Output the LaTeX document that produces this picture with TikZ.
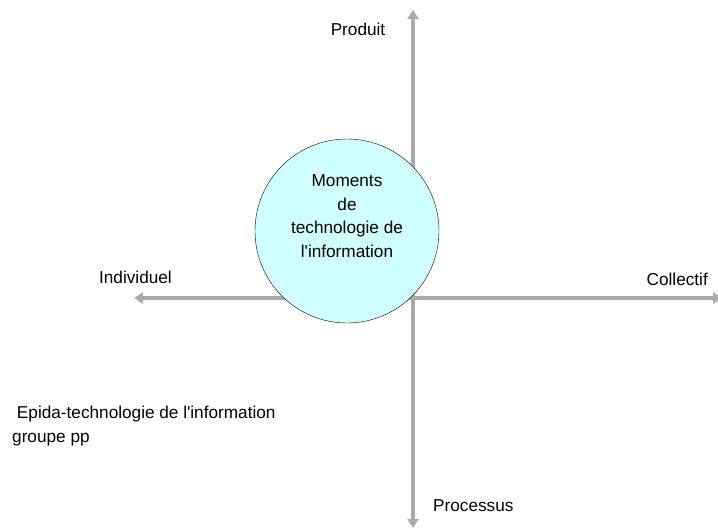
\documentclass[tikz,border=0pt]{standalone}
\usepackage{fontspec}
\setmainfont{Liberation Sans}
\usetikzlibrary{positioning,arrows.meta}

\definecolor{axisgray}{RGB}{170,170,170}
\definecolor{lightcyan}{RGB}{208,255,255}

\begin{document}
\begin{tikzpicture}[
    x=1bp, y=-1bp,
    every node/.style={font=\fontsize{17.2bp}{23.5bp}\selectfont, inner sep=0pt},
    axis/.style={draw=axisgray, line width=4bp, -{Triangle[length=9bp, width=11bp]}},
    bubble/.style={circle, draw, thin, fill=lightcyan, minimum size=184bp},
    tag/.style={text=black}
]
\useasboundingbox (0,0) rectangle (718,531);

% Axes
\coordinate (origin) at (413,298);
\coordinate (top) at (413,10);
\coordinate (bottom) at (413,528);
\coordinate (left) at (134,298);
\coordinate (right) at (722,298);

\draw[axis] (origin) -- (top);
\draw[axis] (origin) -- (bottom);
\draw[axis] (origin) -- (left);
\draw[axis] (origin) -- (right);

% Central moment
\node[bubble] (moments) at (347,231) {};
\node[tag, align=center] (momentstext) at ([yshift=15bp]moments.center)
    {Moments\\de\\technologie de\\l\textquotesingle information};

% Axis labels
\node[tag] (produit) at (358,29) {Produit};
\node[tag, anchor=east] (collectif) at (708,279) {Collectif};
\node[tag, anchor=east] (individuel) at (172,277) {Individuel};
\node[tag, anchor=west] (processus) at (433,506) {Processus};

% Note
\node[tag, align=left, anchor=north west] (epida) at (12,406)
    {\ Epida-technologie de l\textquotesingle information\\groupe pp};

\end{tikzpicture}
\end{document}
